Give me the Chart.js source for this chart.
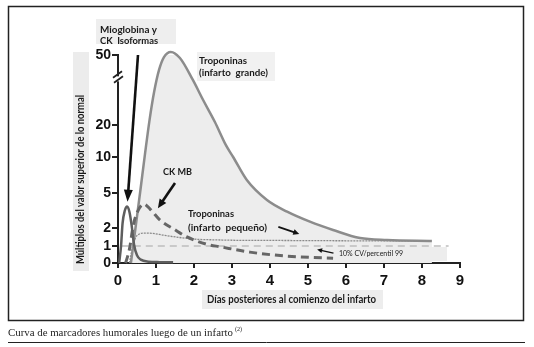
<!DOCTYPE html>
<html><head><meta charset="utf-8">
<script src="https://cdn.jsdelivr.net/npm/chart.js@4"></script>
<style>html,body{margin:0;padding:0;background:#fff;}canvas{display:block;}</style>
</head><body>
<canvas id="c" width="534" height="347"></canvas>
<script>
// ---------------- data ----------------
const yTickValues = [0, 1, 2, 5, 10, 20, 50];
const xTickValues = [0, 1, 2, 3, 4, 5, 6, 7, 8, 9];

const tropGrandeDias    = [0.34, 0.46, 0.58, 0.71, 0.83, 0.95, 1.08, 1.21, 1.39, 1.63, 1.97, 2.24, 2.55, 2.84, 3.03, 3.39, 3.92, 4.45, 5.05, 5.66, 6.37, 7.08, 8.26];
const tropGrandeValores = [0, 2.0, 5.0, 10.9, 22.1, 34.1, 43.6, 49.1, 51.3, 48.7, 39.3, 30.7, 21.3, 13.7, 10, 6.8, 4.4, 3.4, 2.54, 1.89, 1.44, 1.33, 1.28];

const mioglobinaDias    = [0.03, 0.08, 0.12, 0.18, 0.24, 0.30, 0.36, 0.42, 0.50, 0.60, 0.80, 1.10, 1.45];
const mioglobinaValores = [0, 1.0, 2.4, 3.5, 3.85, 3.4, 2.2, 1.1, 0.45, 0.2, 0.08, 0.05, 0.04];

const ckmbDias    = [0.20, 0.30, 0.40, 0.50, 0.68, 0.85, 1.10, 1.50, 1.80, 2.33, 2.70, 3.47, 4.20, 5.05, 5.66];
const ckmbValores = [0, 0.8, 2.2, 3.3, 4.05, 3.6, 2.7, 1.9, 1.52, 1.1, 0.95, 0.64, 0.45, 0.33, 0.28];

const tropPequenoDias    = [0.30, 0.38, 0.46, 0.55, 0.70, 0.90, 1.20, 1.70, 2.10, 2.60, 3.00, 4.00, 5.00, 6.00, 7.00, 8.25];
const tropPequenoValores = [0, 0.9, 1.45, 1.65, 1.72, 1.70, 1.60, 1.45, 1.37, 1.34, 1.32, 1.31, 1.30, 1.29, 1.28, 1.28];

const limiteDias    = [0.1, 8.7];
const limiteValores = [1, 1];

// annotation arrows in data units: [fromDia, fromValor, toDia, toValor]
const flechaMio   = [0.526, 50, 0.25, 4.25];
const flechaCkmb  = [1.50, 6.4, 1.05, 3.7];
const flechaTropP = [4.22, 2.1, 4.77, 1.67];
const flechaCV    = [5.67, 0.58, 5.24, 0.79];

// ---------------- layout (positions of the broken y axis ticks, fraction of axis height) ----------------
const Y_TICK_DECIMALS = [0, 0.0817, 0.1683, 0.3365, 0.5096, 0.6635, 1];

function valueToDecimal(v) {
  const T = yTickValues, D = Y_TICK_DECIMALS;
  if (v <= T[0]) return D[0] + (v - T[0]) * (D[1] - D[0]) / (T[1] - T[0]);
  for (let i = 1; i < T.length; i++) {
    if (v <= T[i]) return D[i-1] + (v - T[i-1]) * (D[i] - D[i-1]) / (T[i] - T[i-1]);
  }
  const n = T.length - 1;
  return D[n] + (v - T[n]) * (D[n] - D[n-1]) / (T[n] - T[n-1]);
}
function decimalToValue(d) {
  const T = yTickValues, D = Y_TICK_DECIMALS;
  for (let i = 1; i < D.length; i++) {
    if (d <= D[i]) return T[i-1] + (d - D[i-1]) * (T[i] - T[i-1]) / (D[i] - D[i-1]);
  }
  const n = D.length - 1;
  return T[n] + (d - D[n]) * (T[n] - T[n-1]) / (D[n] - D[n-1]);
}

class PiecewiseScale extends Chart.LinearScale {
  getPixelForValue(value) {
    if (value === null || value === undefined || isNaN(value)) return NaN;
    return this.getPixelForDecimal(valueToDecimal(value));
  }
  getValueForPixel(pixel) {
    return decimalToValue(this.getDecimalForPixel(pixel));
  }
}
PiecewiseScale.id = 'piecewise';
PiecewiseScale.defaults = {};
Chart.register(PiecewiseScale);

const pts = (xs, ys) => xs.map((x, i) => ({x: x, y: ys[i]}));

function fitText(ctx, text, x, y, w, align) {
  const m = ctx.measureText(text).width;
  ctx.save();
  ctx.translate(x, y);
  ctx.scale(w / m, 1);
  ctx.textAlign = align || 'left';
  ctx.fillText(text, 0, 0);
  ctx.restore();
}

function arrow(chart, a, lw, headLen, headHalf) {
  const xs = chart.scales.x, ys = chart.scales.y, ctx = chart.ctx;
  const x1 = xs.getPixelForValue(a[0]), y1 = ys.getPixelForValue(a[1]);
  const x2 = xs.getPixelForValue(a[2]), y2 = ys.getPixelForValue(a[3]);
  const ang = Math.atan2(y2 - y1, x2 - x1);
  const bx = x2 - headLen * Math.cos(ang), by = y2 - headLen * Math.sin(ang);
  ctx.save();
  ctx.strokeStyle = '#111'; ctx.fillStyle = '#111'; ctx.lineWidth = lw; ctx.lineCap = 'butt';
  ctx.beginPath(); ctx.moveTo(x1, y1); ctx.lineTo(bx + Math.cos(ang), by + Math.sin(ang)); ctx.stroke();
  ctx.beginPath();
  ctx.moveTo(x2, y2);
  ctx.lineTo(bx + headHalf * Math.sin(ang), by - headHalf * Math.cos(ang));
  ctx.lineTo(bx - headHalf * Math.sin(ang), by + headHalf * Math.cos(ang));
  ctx.closePath(); ctx.fill();
  ctx.restore();
}

const boxes = [
  {x: 96,  y: 19,  w: 80,  h: 25,  c: '#eeeeee'},
  {x: 197, y: 52,  w: 78,  h: 29,  c: '#f1f1f1'},
  {x: 73,  y: 52,  w: 16,  h: 219, c: '#ececec'},
  {x: 202, y: 290, w: 181, h: 19,  c: '#ededed'},
  {x: 300, y: 247, w: 147, h: 14,  c: '#ededed'}
];
const labels = [
  {t: 'Mioglobina y',        x: 100, y: 30,  w: 57},
  {t: 'CK  Isoformas',       x: 100, y: 41,  w: 58},
  {t: 'Troponinas',          x: 199, y: 61,  w: 48},
  {t: '(infarto  grande)',   x: 199, y: 73,  w: 69},
  {t: 'CK MB',               x: 163, y: 172, w: 29},
  {t: 'Troponinas',          x: 188, y: 214, w: 46},
  {t: '(infarto  pequeño)',  x: 188, y: 228, w: 79}
];

const decor = {
  id: 'decor',
  beforeDraw(chart) {
    const ctx = chart.ctx;
    ctx.save();
    ctx.fillStyle = '#ffffff';
    ctx.fillRect(0, 0, chart.width, chart.height);
    boxes.forEach(b => { ctx.fillStyle = b.c; ctx.fillRect(b.x, b.y, b.w, b.h); });
    ctx.restore();
  },
  afterDraw(chart) {
    const ctx = chart.ctx;
    ctx.save();
    ctx.fillStyle = '#1a1a1a';
    ctx.textBaseline = 'middle';
    ctx.font = 'bold 10px Lato';
    labels.forEach(l => fitText(ctx, l.t, l.x, l.y, l.w));
    ctx.font = '7px Lato';
    fitText(ctx, '10% CV/percentil 99', 339, 254, 64);
    // axis titles
    ctx.font = 'bold 10.5px Lato';
    fitText(ctx, 'Días posteriores al comienzo del infarto', 291.5, 300, 169, 'center');
    ctx.save();
    ctx.translate(81, 179.5);
    ctx.rotate(-Math.PI / 2);
    fitText(ctx, 'Múltiplos del valor superior de lo normal', 0, 0, 169, 'center');
    ctx.restore();
    ctx.restore();

    // arrows
    arrow(chart, flechaMio, 2.6, 12, 4.5);
    arrow(chart, flechaCkmb, 2.6, 9, 4);
    arrow(chart, flechaTropP, 1.8, 6, 3);
    arrow(chart, flechaCV, 1.4, 5, 2.5);

    // y axis break
    const ys = chart.scales.y, ax = chart.chartArea.left;
    const py = ys.getPixelForValue(40);
    ctx.save();
    ctx.fillStyle = '#ffffff';
    ctx.fillRect(ax - 2, py - 2, 4, 5);
    ctx.strokeStyle = '#222'; ctx.lineWidth = 1.8;
    ctx.beginPath();
    ctx.moveTo(ax - 5, py - 0.5); ctx.lineTo(ax + 4, py - 7);
    ctx.moveTo(ax - 4, py + 4.5); ctx.lineTo(ax + 5, py - 2);
    ctx.stroke();
    ctx.restore();

    // frame + caption
    ctx.save();
    ctx.strokeStyle = '#222'; ctx.lineWidth = 1.5;
    ctx.strokeRect(8.5, 6.5, 515, 314);
    ctx.lineWidth = 1;
    ctx.beginPath(); ctx.moveTo(8, 342.5); ctx.lineTo(525, 342.5); ctx.stroke();
    ctx.fillStyle = '#222';
    ctx.textBaseline = 'alphabetic';
    ctx.font = '10.5px "Liberation Serif"';
    fitText(ctx, 'Curva de marcadores humorales luego de un infarto', 8, 336, 225);
    ctx.font = '6px "Liberation Serif"';
    ctx.fillText('(2)', 235, 331);
    ctx.restore();
  }
};

new Chart(document.getElementById('c').getContext('2d'), {
  type: 'line',
  data: {
    datasets: [
      {label: 'Mioglobina y CK Isoformas', data: pts(mioglobinaDias, mioglobinaValores),
       borderColor: '#5e5e5e', borderWidth: 2.5, fill: false, order: 1, clip: false},
      {label: 'CK MB', data: pts(ckmbDias, ckmbValores),
       borderColor: '#666666', borderWidth: 3, borderDash: [8, 5], fill: false, order: 2, clip: false},
      {label: 'Troponinas (infarto pequeño)', data: pts(tropPequenoDias, tropPequenoValores),
       borderColor: '#8a8a8a', borderWidth: 1.3, borderDash: [2, 1], fill: false, order: 3, clip: false},
      {label: '10% CV/percentil 99', data: pts(limiteDias, limiteValores),
       borderColor: '#bdbdbd', borderWidth: 1.5, borderDash: [7, 5], fill: false, order: 4, clip: false},
      {label: 'Troponinas (infarto grande)', data: pts(tropGrandeDias, tropGrandeValores),
       borderColor: '#8c8c8c', borderWidth: 2.5, fill: 'origin', backgroundColor: '#ededed', order: 5, clip: false}
    ]
  },
  options: {
    responsive: false,
    animation: false,
    devicePixelRatio: 1,
    layout: {padding: {left: 0, top: 55, right: 74, bottom: 0}},
    plugins: {legend: {display: false}, tooltip: {enabled: false}},
    elements: {point: {radius: 0}, line: {cubicInterpolationMode: 'monotone'}},
    scales: {
      x: {
        type: 'linear', min: 0, max: 9, z: 1,
        afterFit: s => { s.height = 84; },
        afterBuildTicks: s => { s.ticks = xTickValues.map(v => ({value: v})); },
        ticks: {autoSkip: false, maxRotation: 0, padding: 4, color: '#111',
                font: {family: 'Liberation Sans', weight: 'bold', size: 15}, callback: v => String(v)},
        grid: {drawOnChartArea: false, drawTicks: true, tickLength: 5, color: '#222', lineWidth: 2},
        border: {display: true, color: '#222', width: 2}
      },
      y: {
        type: 'piecewise', min: 0, max: 50, z: 1,
        afterFit: s => { s.width = 118; },
        afterBuildTicks: s => { s.ticks = yTickValues.map(v => ({value: v})); },
        ticks: {autoSkip: false, padding: 1, color: '#111',
                font: {family: 'Liberation Sans', weight: 'bold', size: 14}, callback: v => String(v)},
        grid: {drawOnChartArea: false, drawTicks: true, tickLength: 6, color: '#222', lineWidth: 2},
        border: {display: true, color: '#222', width: 2}
      }
    }
  },
  plugins: [decor]
});
</script>
</body></html>
